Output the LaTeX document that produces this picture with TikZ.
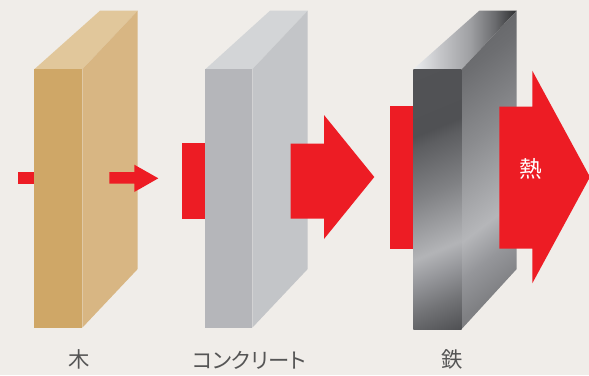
\documentclass[tikz,border=0pt]{standalone}
\usepackage{fontspec}
\newfontfamily\jpfont{Noto Sans CJK JP}
\newfontfamily\jpprop[RawFeature={+palt}]{Noto Sans CJK JP}

% palette
\definecolor{paper}{HTML}{F0EDE9}
\definecolor{heat}{HTML}{ED1C24}
\definecolor{woodF}{HTML}{CFA767}
\definecolor{woodR}{HTML}{D8B683}
\definecolor{woodT}{HTML}{E1C79B}
\definecolor{concF}{HTML}{B5B6BA}
\definecolor{concR}{HTML}{C3C5C8}
\definecolor{concT}{HTML}{D3D5D7}
\definecolor{labelgray}{HTML}{555555}
% steel tones, front face
\definecolor{fa}{HTML}{4E4F52}
\definecolor{fb}{HTML}{4F5053}
\definecolor{fc}{HTML}{727376}
\definecolor{fd}{HTML}{95969A}
\definecolor{fe}{HTML}{B3B4B7}
\definecolor{ff}{HTML}{808184}
\definecolor{fg}{HTML}{5D5E61}
\definecolor{fh}{HTML}{505154}
\definecolor{fi}{HTML}{525356}
% steel tones, side face
\definecolor{ra}{HTML}{77787B}
\definecolor{rb}{HTML}{7F8083}
\definecolor{rc}{HTML}{95969A}
\definecolor{rd}{HTML}{B5B6B9}
\definecolor{re}{HTML}{8A8B8E}
\definecolor{rf}{HTML}{6D6E71}
\definecolor{rg}{HTML}{68696C}
\definecolor{rh}{HTML}{646568}
% steel tones, top face
\definecolor{ta}{HTML}{ECEEF0}
\definecolor{tb}{HTML}{C4C5C8}
\definecolor{tc}{HTML}{9FA0A3}
\definecolor{td}{HTML}{6A6B6E}
\definecolor{te}{HTML}{2C2D2F}

\pgfdeclareverticalshading{steelfront}{100bp}{%
  color(0bp)=(fa); color(25bp)=(fa); color(26bp)=(fb); color(31.8bp)=(fc);
  color(36.9bp)=(fd); color(41.2bp)=(fe); color(51.5bp)=(ff); color(60.1bp)=(fg);
  color(62.3bp)=(fh); color(75bp)=(fi); color(100bp)=(fi)}
\pgfdeclareverticalshading{steelside}{100bp}{%
  color(0bp)=(ra); color(25bp)=(ra); color(34.5bp)=(rb); color(39.3bp)=(rc);
  color(43.8bp)=(rd); color(54.9bp)=(re); color(63.9bp)=(rf); color(66.6bp)=(rg);
  color(75bp)=(rh); color(100bp)=(rh)}
\pgfdeclarehorizontalshading{steeltop}{100bp}{%
  color(0bp)=(ta); color(25bp)=(ta); color(38bp)=(tb); color(52.4bp)=(tc);
  color(64.5bp)=(td); color(75bp)=(te); color(100bp)=(te)}

\tikzset{
  heatfill/.style={fill=heat, draw=none},
  matlabel/.style={text=labelgray, font=\jpprop\fontsize{16pt}{18pt}\selectfont, inner sep=0pt, anchor=center},
}

\begin{document}
\begin{tikzpicture}[x=0.75pt,y=-0.75pt]
\fill[paper] (0,0) rectangle (589,375);
\useasboundingbox (0,0) rectangle (589,375);

% ---------- wood ----------
\fill[heat] (18,172) rectangle (35,183.7);
\fill[woodT] (34.3,69.3) -- (100,10.7) -- (137.7,10.7) -- (82.3,69.3) -- cycle;
\fill[woodR] (82.3,69.3) -- (137.7,10.7) -- (137.7,269) -- (82.3,327.7) -- cycle;
\fill[woodF] (34.3,69.3) rectangle (82.3,327.7);
\fill[heatfill] (109.3,172) -- (134.3,172) -- (134.3,164.7) -- (158.3,178.3)
  -- (134.3,192) -- (134.3,183.7) -- (109.3,183.7) -- cycle;

% ---------- concrete ----------
\fill[heat] (182.3,143) rectangle (206,218.7);
\fill[concT] (205.3,69.3) -- (270,10.7) -- (307.7,10.7) -- (252.3,69.3) -- cycle;
\fill[concR] (252.3,69.3) -- (307.7,10.7) -- (307.7,269) -- (252.3,327.7) -- cycle;
\fill[concF] (205.3,69.3) rectangle (252.3,327.7);
\fill[heatfill] (290.7,143.5) -- (324,143.5) -- (324,115) -- (374.3,177)
  -- (324,239) -- (324,218.7) -- (290.7,218.7) -- cycle;

% ---------- steel ----------
\fill[heat] (390,106) rectangle (414,248.7);
% top face
\shade[shading=steeltop] (413.3,69.3) -- (479.3,10.7) -- (516.7,10.7) -- (461.7,69.3) -- cycle;
% side face, diagonal sheen
\begin{scope}
  \clip (461.7,69.3) -- (516.7,10.7) -- (516.7,269) -- (461.7,329) -- cycle;
  \begin{scope}[transform canvas={rotate around={37.4:(489.2,169.75)}}]
    \shade[shading=steelside] (324.2,4.75) rectangle (654.2,334.75);
  \end{scope}
\end{scope}
% front face, diagonal sheen
\begin{scope}
  \clip (413.3,69.3) rectangle (461.7,329);
  \begin{scope}[transform canvas={rotate around={22.6:(437.5,199.15)}}]
    \shade[shading=steelfront] (302.5,64.15) rectangle (572.5,334.15);
  \end{scope}
\end{scope}
\fill[heatfill] (499.3,106.7) -- (532.3,106.7) -- (532.3,70.7) -- (590,177)
  -- (532.3,283.3) -- (532.3,248.7) -- (499.3,248.7) -- cycle;
\node[text=white, font=\jpfont\fontsize{17pt}{19pt}\selectfont, inner sep=0pt] (netsu) at (530.5,169) {熱};

% ---------- labels ----------
\node[matlabel] (ki) at (79.2,359.5) {木};
\node[matlabel] (conc) at (249,360) {コンクリート};
\node[matlabel] (tetsu) at (451.7,359.5) {鉄};
\end{tikzpicture}
\end{document}
